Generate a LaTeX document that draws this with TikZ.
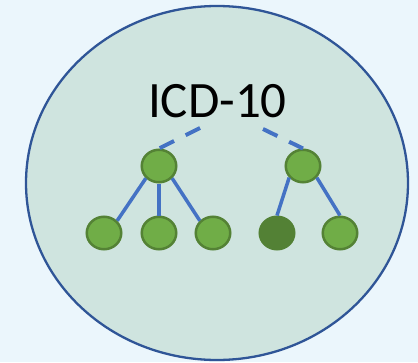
\documentclass[tikz,border=0pt]{standalone}
\usepackage{fontspec}
\setmainfont{Carlito}
\usetikzlibrary{shapes.geometric}
\definecolor{bgcol}{RGB}{235,246,252}
\definecolor{worldfill}{RGB}{207,228,223}
\definecolor{worldedge}{RGB}{47,85,151}
\definecolor{leaffill}{RGB}{112,173,71}
\definecolor{leafedge}{RGB}{84,130,53}
\definecolor{leafdark}{RGB}{83,129,53}
\definecolor{linkcol}{RGB}{68,114,196}
\begin{document}
\begin{tikzpicture}[x=1pt,y=-1pt,
  leaf/.style={ellipse, draw=leafedge, fill=leaffill, line width=2.5pt,
    minimum width=34.5pt, minimum height=32.5pt, inner sep=0pt},
  darkleaf/.style={leaf, fill=leafdark, draw=leafdark},
  link/.style={draw=linkcol, line width=3.5pt},
  dashlink/.style={draw=linkcol, line width=4pt, dash pattern=on 16pt off 13pt}]
\fill[bgcol] (0,0) rectangle (418,362);
\useasboundingbox (0,0) rectangle (418,362);
\node[ellipse, draw=worldedge, fill=worldfill, line width=2.3pt,
  minimum width=382pt, minimum height=354pt, inner sep=0pt] (world) at (217,183) {};
\node[anchor=base, inner sep=0pt, font=\fontsize{51}{51}\selectfont] (title) at (217.5,117) {ICD-10};
\coordinate (dl) at (200,128);
\coordinate (dr) at (263,129);
\node[leaf] (tl) at (159,166) {};
\node[leaf] (tr) at (303,166) {};
\node[leaf] (b1) at (104,233) {};
\node[leaf] (b2) at (159,233) {};
\node[leaf] (b3) at (213,233) {};
\node[darkleaf] (b4) at (277,233) {};
\node[leaf] (b5) at (340,233) {};
\draw[dashlink] (dl) -- (tl.north);
\draw[dashlink] (dr) -- (tr.north);
\draw[link] (tl.223) -- (b1.43);
\draw[link] (tl.south) -- (b2.north);
\draw[link] (tl.317) -- (b3.137);
\draw[link] (tr.220) -- (b4.north);
\draw[link] (tr.320) -- (b5.north);
\end{tikzpicture}
\end{document}
